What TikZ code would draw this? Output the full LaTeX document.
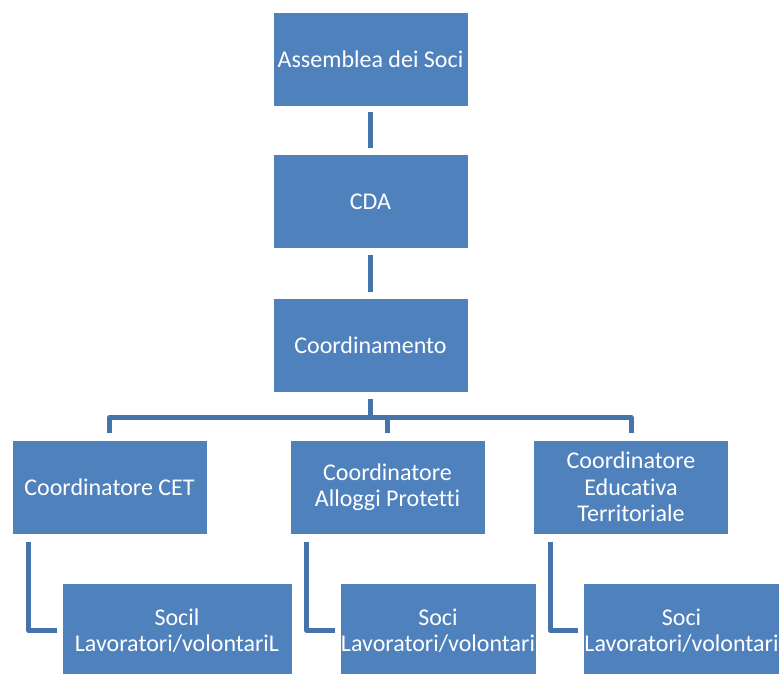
\documentclass[tikz,border=0pt]{standalone}
\usepackage{fontspec}
\setmainfont{Carlito}[Ligatures=NoCommon]
\usepackage{tikz}
\usetikzlibrary{positioning,calc}
\definecolor{orgFill}{HTML}{4F81BD}
\definecolor{orgLine}{HTML}{4674AA}
\tikzset{
  org/.style={draw=white,line width=0.6pt,fill=orgFill,text=white,align=center,
              minimum width=195pt,minimum height=94pt,inner sep=0pt,
              font=\fontsize{24}{26.5}\selectfont},
  orgsub/.style={org,minimum width=196pt,anchor=north west},
  orgline/.style={draw=orgLine,line width=5pt,line join=round},
}
\begin{document}
\begin{tikzpicture}[x=1pt,y=1pt,node distance=48pt]
  \useasboundingbox (0,0) rectangle (779,-673);
  \node[org] (soc) at (370.5,-59) {Assemblea dei Soci};
  \node[org,below=of soc] (cda) {CDA};
  \node[org,below=49pt of cda] (coord) {Coordinamento};

  \node[org] (cet) at (109.5,-487) {Coordinatore CET};
  \node[org] (allog) at (387.5,-487) {Coordinatore\\Alloggi Protetti};
  \node[org] (edu) at (631,-487) {Coordinatore\\Educativa\\Territoriale};

  \node[orgsub,minimum width=230pt] (soci1) at ($(cet.south west)+(50,-49)$) {Socil\\Lavoratori/volontariL};
  \node[orgsub] (soci2) at ($(allog.south west)+(50,-49)$) {Soci\\Lavoratori/volontari};
  \node[orgsub] (soci3) at ($(edu.south west)+(50,-49)$) {Soci\\Lavoratori/volontari};

  \draw[orgline,shorten <=6pt,shorten >=6pt] (soc)--(cda);
  \draw[orgline,shorten <=6pt,shorten >=6pt] (cda)--(coord);

  % bus to the second row
  \coordinate (bus) at ($(coord.south)+(0,-25)$);
  \draw[orgline,shorten <=6pt] (coord.south)--(bus);
  \draw[orgline,shorten <=7pt,shorten >=7pt] (cet.north) |- (bus) -| (edu.north);
  \draw[orgline,shorten >=7pt] (bus -| allog.north)--(allog.north);

  \draw[orgline,shorten <=8pt,shorten >=5pt] ([xshift=17pt]cet.south west) |- (soci1.west);
  \draw[orgline,shorten <=8pt,shorten >=5pt] ([xshift=17pt]allog.south west) |- (soci2.west);
  \draw[orgline,shorten <=8pt,shorten >=5pt] ([xshift=17pt]edu.south west) |- (soci3.west);
\end{tikzpicture}
\end{document}
